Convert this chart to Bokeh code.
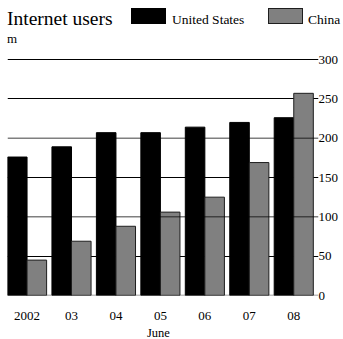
from bokeh.plotting import figure
from bokeh.models import FixedTicker, Span, Range1d, ColumnDataSource, Div
from bokeh.layouts import column
from bokeh.embed import file_html
from bokeh.resources import INLINE

# ---- data ----
years = ["2002", "03", "04", "05", "06", "07", "08"]
us_users = [176, 189, 207, 207, 214, 220, 226]
china_users = [45, 69, 88, 106, 125, 169, 257]
y_ticks = [0, 50, 100, 150, 200, 250, 300]
series_names = ["United States", "China"]
x_title = "June"
chart_title = "Internet users"
unit = "m"

FONT = "Liberation Serif"
US_FILL, US_LINE = "black", "black"
CN_FILL, CN_LINE = "#808080", "#1e1e1e"

# ---- layout (pixels) ----
W, H = 343, 339
HEAD, FOOT = 46, 14
MAIN_H = H - HEAD - FOOT
FL, FR = 7, 318                    # frame left / right px
FB = 295 - HEAD                    # frame bottom inside main figure
PXU = 44.45                        # px per category
x_start = -0.44
x_end = x_start + (FR - FL) / PXU
y_end = 300 * FB / 236.0

# ---------- header: title, unit, legend ----------
def span_text(txt, left, top, size):
    return (f'<span style="position:absolute;left:{left}px;top:{top}px;'
            f'font-size:{size}px;line-height:1;white-space:nowrap;">{txt}</span>')

def swatch(left, fill, line):
    return (f'<span style="position:absolute;left:{left}px;top:8px;width:35px;'
            f'height:16px;box-sizing:border-box;background:{fill};'
            f'border:1px solid {line};"></span>')

header_html = (
    f'<div style="position:relative;width:{W}px;height:{HEAD}px;'
    f"font-family:'{FONT}';color:black;margin:0;padding:0;\">"
    + span_text(chart_title, 7, 8.7, 19.5)
    + span_text(unit, 7, 32.1, 13)
    + swatch(131, US_FILL, US_LINE)
    + span_text(series_names[0], 172, 12.7, 13.5)
    + swatch(268, CN_FILL, CN_LINE)
    + span_text(series_names[1], 308, 12.7, 13.5)
    + "</div>"
)
header = Div(text=header_html, width=W, height=HEAD, margin=0)

footer_html = (
    f'<div style="position:relative;width:{W}px;height:{FOOT}px;'
    f"font-family:'{FONT}';color:black;margin:0;padding:0;\">"
    + span_text(x_title, 147, 1.8, 12.5)
    + "</div>"
)
footer = Div(text=footer_html, width=W, height=FOOT, margin=0)

# ---------- main chart ----------
idx = list(range(len(years)))
bw = 0.44
src = ColumnDataSource(dict(
    x_us=[i - bw / 2 for i in idx],
    x_cn=[i + bw / 2 for i in idx],
    us=us_users,
    cn=china_users,
))

p = figure(width=W, height=MAIN_H, title=None,
           x_range=Range1d(x_start, x_end), y_range=Range1d(0, y_end),
           y_axis_location="right",
           output_backend="svg", toolbar_location=None,
           min_border_left=FL, min_border_top=0,
           min_border_right=W - FR, min_border_bottom=MAIN_H - FB)
p.outline_line_color = None
p.background_fill_color = "white"
p.border_fill_color = "white"

# grid (black lines behind the bars)
p.xgrid.visible = False
p.ygrid.ticker = FixedTicker(ticks=[t for t in y_ticks if t % 100 != 0 or t == 300])
p.ygrid.grid_line_color = "black"
p.ygrid.grid_line_width = 1

# bars
p.vbar(x="x_us", top="us", width=bw, bottom=0, source=src,
       fill_color=US_FILL, line_color=US_LINE, line_width=1)
p.vbar(x="x_cn", top="cn", width=bw, bottom=0, source=src,
       fill_color=CN_FILL, line_color=CN_LINE, line_width=1)

# grey lines drawn over the bars
for t in y_ticks:
    if t % 100 == 0 and t != 300:
        p.add_layout(Span(location=t, dimension="width", line_color="black",
                          line_alpha=0.5, line_width=1.5, level="overlay"))

# x axis
xa = p.xaxis[0]
xa.ticker = FixedTicker(ticks=idx)
xa.major_label_overrides = {i: years[i] for i in idx}
xa.axis_line_color = None
xa.major_tick_line_color = None
xa.minor_tick_line_color = None
xa.major_tick_out = 0
xa.major_label_text_font = FONT
xa.major_label_text_font_size = "13px"
xa.major_label_text_color = "black"
xa.major_label_standoff = 16

# y axis (right)
ya = p.yaxis[0]
ya.ticker = FixedTicker(ticks=y_ticks)
ya.axis_line_color = None
ya.major_tick_line_color = None
ya.minor_tick_line_color = None
ya.major_tick_out = 0
ya.major_label_text_font = FONT
ya.major_label_text_font_size = "13px"
ya.major_label_text_color = "black"
ya.major_label_standoff = 0

layout = column(header, p, footer, spacing=0)
open("out.html", "w").write(file_html(layout, INLINE))
